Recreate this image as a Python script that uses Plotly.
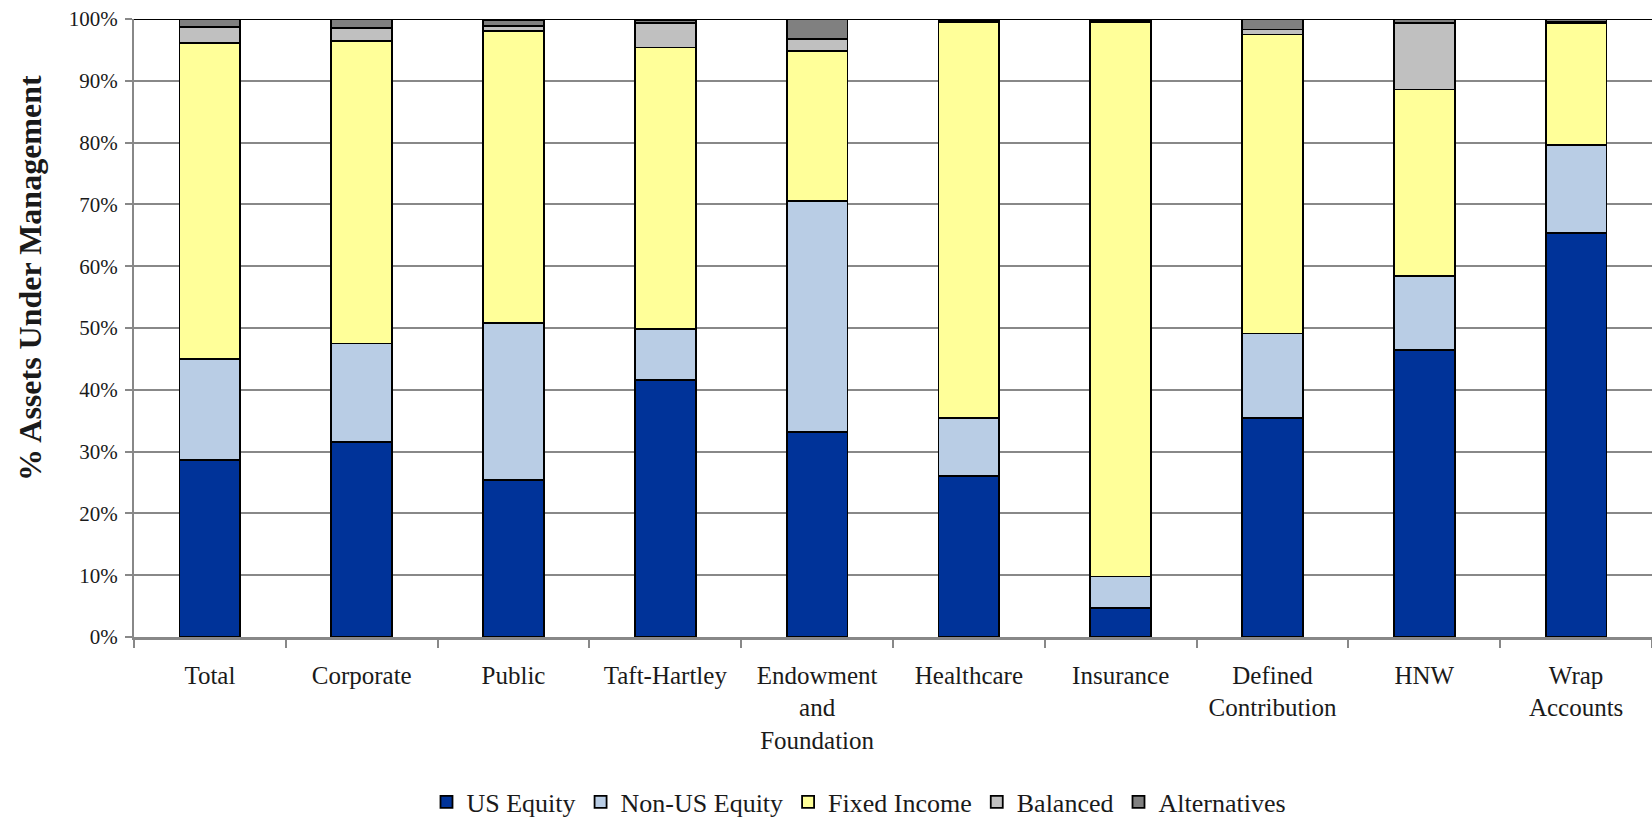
import plotly.graph_objects as go

# Client segments along the x axis
categories = [
    "Total", "Corporate", "Public", "Taft-Hartley", "Endowment<br>and<br>Foundation",
    "Healthcare", "Insurance", "Defined<br>Contribution", "HNW", "Wrap<br>Accounts",
]

# Asset-class share of AUM, in percent
us_equity     = [28.7, 31.6, 25.4, 41.6, 33.2, 26.1,  4.7, 35.5, 46.5, 65.4]
non_us_equity = [16.3, 15.9, 25.4,  8.2, 37.3,  9.4,  5.1, 13.6, 11.9, 14.2]
fixed_income  = [51.1, 48.9, 47.2, 45.6, 24.3, 64.0, 89.7, 48.4, 30.2, 19.7]
balanced      = [ 2.6,  2.2,  0.9,  3.9,  2.0,  0.2,  0.2,  0.8, 10.7,  0.2]
alternatives  = [ 1.3,  1.4,  1.0,  0.6,  3.2,  0.3,  0.3,  1.7,  0.7,  0.5]

series = [
    ("US Equity", us_equity, "#003399"),
    ("Non-US Equity", non_us_equity, "#B9CDE5"),
    ("Fixed Income", fixed_income, "#FFFF99"),
    ("Balanced", balanced, "#C0C0C0"),
    ("Alternatives", alternatives, "#808080"),
]

SERIF = "Liberation Serif, Times New Roman, serif"
TEXT = "#1a1a1a"
GRID = "#888888"

fig = go.Figure()
for name, vals, color in series:
    fig.add_trace(go.Bar(
        name=name,
        x=categories,
        y=[v / 100 for v in vals],
        marker=dict(color=color, line=dict(color="black", width=1.8)),
        hovertemplate="%{x}: %{y:.1%}<extra>" + name + "</extra>",
    ))

fig.update_layout(
    barmode="stack",
    bargap=0.6,
    width=1652,
    height=817,
    margin=dict(l=134, r=0, t=19, b=180, autoexpand=False),
    paper_bgcolor="white",
    plot_bgcolor="white",
    font=dict(family=SERIF, color=TEXT),
    legend=dict(
        orientation="h",
        x=0.4776, xanchor="center",
        y=-0.267, yanchor="middle",
        font=dict(family=SERIF, size=26, color=TEXT),
        traceorder="normal",
        itemwidth=30,
    ),
    showlegend=True,
)

fig.update_xaxes(
    type="category",
    range=[-0.5, 9.5],
    tickson="boundaries",
    ticks="outside",
    ticklen=8,
    tickwidth=1.5,
    tickcolor=GRID,
    showline=True,
    linecolor=GRID,
    linewidth=2.5,
    showgrid=False,
    tickfont=dict(family=SERIF, size=25, color=TEXT),
    ticklabelstandoff=14,
    tickangle=0,
    automargin=False,
)

fig.update_yaxes(
    range=[0, 1],
    dtick=0.1,
    tickformat=".0%",
    ticks="outside",
    ticklen=7,
    tickwidth=1.5,
    tickcolor=GRID,
    showline=True,
    linecolor=GRID,
    linewidth=2,
    showgrid=True,
    gridcolor=GRID,
    gridwidth=1.5,
    zeroline=False,
    tickfont=dict(family=SERIF, size=21, color=TEXT),
    ticklabelstandoff=3,
    automargin=False,
)

# Dark rule across the top of the plot at 100%
fig.add_shape(
    type="line", xref="paper", yref="y",
    x0=0, x1=1, y0=1, y1=1,
    line=dict(color="black", width=2),
    layer="above",
)

# Vertical axis title
fig.add_annotation(
    text="<b>% Assets Under Management</b>",
    xref="paper", yref="paper",
    x=-0.0685, y=0.581,
    xanchor="center", yanchor="middle",
    textangle=-90,
    showarrow=False,
    font=dict(family=SERIF, size=32, color=TEXT),
)

fig.write_html("out.html")
